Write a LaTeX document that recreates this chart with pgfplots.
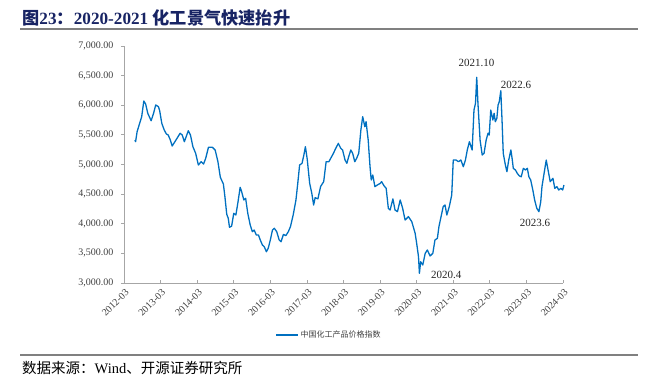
\documentclass[border=0pt]{standalone}
\usepackage{fontspec}
\setmainfont{Liberation Serif}
\newfontfamily\cjk{Noto Sans CJK SC}
\usepackage{pgfplots}
\pgfplotsset{compat=1.18}
\definecolor{lineblue}{RGB}{0,112,192}
\definecolor{titleblue}{RGB}{24,36,100}
\definecolor{rulegray}{RGB}{128,128,128}
\definecolor{axgray}{RGB}{166,166,166}
\definecolor{txtgray}{RGB}{64,64,64}
\begin{document}
\begin{tikzpicture}
\useasboundingbox (0bp,0bp) rectangle (648bp,382bp);
% title
\node[anchor=west,inner sep=0pt,text=titleblue] at (22bp,364bp)
  {\fontsize{17.2bp}{19bp}\selectfont{\cjk\bfseries 图}\textbf{23}{\cjk\bfseries ：}\textbf{2020-2021} {\cjk\bfseries 化工景气快速抬升}};
\draw[rulegray,line width=1.4bp] (20bp,353bp) -- (638bp,353bp);
\draw[rulegray,line width=1.4bp] (20bp,27bp) -- (638bp,27bp);
\node[anchor=west,inner sep=0pt,text=black] at (22bp,14bp)
  {\fontsize{14.5bp}{16bp}\selectfont{\cjk 数据来源：}Wind{\cjk 、开源证券研究所}};
\begin{axis}[
  at={(124bp,99bp)}, anchor=south west,
  scale only axis, width=439bp, height=237bp,
  xmin=0, xmax=144, ymin=3000, ymax=7000,
  axis lines=left, axis line style={axgray, line width=0.8bp, -},
  xtick={0,12,...,144},
  xticklabels={2012-03,2013-03,2014-03,2015-03,2016-03,2017-03,2018-03,2019-03,2020-03,2021-03,2022-03,2023-03,2024-03},
  ytick={3000,3500,...,7000},
  tick style={axgray, line width=0.8bp},
  major tick length=3bp,
  tick align=outside,
  x tick style={yshift=3bp},
  /pgf/number format/assume math mode=true,
  yticklabel style={/pgf/number format/fixed, /pgf/number format/fixed zerofill, /pgf/number format/precision=2, /pgf/number format/1000 sep={,}},
  yticklabel style={font=\fontsize{10bp}{12bp}\selectfont, text=txtgray, xshift=-4bp},
  xticklabel style={font=\fontsize{10bp}{12bp}\selectfont, text=txtgray, rotate=45, anchor=north east, inner sep=1pt, yshift=-1bp},
  legend style={at={(0.467,-0.219)}, anchor=center, draw=none, fill=none,
    font=\fontsize{8bp}{10bp}\selectfont\cjk, text=txtgray, inner sep=0pt},
  legend image code/.code={\draw[lineblue,line width=1.4bp] (0bp,0bp) -- (22bp,0bp);},
  clip=false,
]
\addplot[lineblue, line width=1.3bp, line join=round] table {
x y
3.6 5413
3.8 5385
4.3 5554
5.2 5706
5.8 5807
6.5 6072
7.1 6021
7.8 5864
8.9 5739
9.7 5864
10.4 6004
11.3 5976
11.7 5908
12.4 5695
13.2 5582
13.9 5515
14.5 5498
15.2 5413
15.8 5312
16.7 5385
17.6 5459
18.4 5527
19.1 5498
19.8 5385
20.4 5470
21.1 5571
21.8 5498
22.6 5301
23.5 5189
24.4 4991
25.3 5047
26.1 5008
26.8 5104
27.7 5290
29.0 5290
29.9 5245
30.8 5050
31.6 4784
32.6 4670
33.1 4457
33.7 4160
34.2 4092
34.6 3940
35.3 3960
36.0 4176
36.7 4148
37.4 4370
38.1 4615
38.6 4541
39.3 4401
39.9 4429
40.6 4176
41.4 3979
42.1 3866
42.7 3894
43.4 3810
44.1 3810
44.7 3726
45.4 3641
46.0 3613
46.7 3528
47.3 3585
48.0 3726
48.7 3894
49.3 3923
50.1 3866
50.9 3726
51.5 3697
52.3 3820
53.1 3800
53.9 3866
54.6 3951
55.5 4150
56.4 4400
57.0 4683
57.6 4991
58.4 5020
59.0 5160
59.5 5301
60.1 5090
60.9 4683
61.6 4514
62.2 4317
62.7 4440
63.6 4420
64.5 4630
65.5 4710
66.3 5047
67.2 5047
67.8 5104
68.7 5189
69.3 5256
70.3 5357
71.1 5273
71.7 5245
72.5 5076
73.1 5020
73.7 5132
74.4 5245
75.0 5189
75.7 5047
76.3 5104
77.0 5189
77.7 5582
78.3 5807
79.0 5638
79.4 5723
80.1 5413
80.7 4963
81.1 4738
81.6 4823
82.3 4626
83.1 4654
84.0 4680
84.5 4710
85.3 4640
86.0 4598
86.7 4261
87.3 4232
88.2 4420
88.9 4232
89.7 4204
90.6 4401
91.4 4261
92.2 4063
93.3 4120
94.4 4035
95.5 3838
96.0 3669
96.6 3444
96.9 3163
97.3 3359
98.0 3304
98.8 3501
99.5 3557
100.4 3456
101.3 3501
102.0 3726
102.8 3754
103.3 3950
104.0 4120
104.7 4289
105.3 4317
105.9 4148
106.7 4289
107.5 4485
108.0 5076
108.9 5076
109.7 5047
110.5 5076
111.3 4963
112.0 5076
112.6 5245
113.3 5385
114.2 5245
114.8 5920
115.3 6033
115.7 6472
116.1 6033
116.8 5413
117.5 5160
118.1 5189
118.8 5413
119.4 5527
119.8 5498
120.3 5920
121.0 5751
121.4 5864
121.8 5723
122.3 5780
122.7 6004
123.1 6060
123.6 6246
124.0 5751
124.4 5189
125.1 4991
125.6 4879
126.2 5076
126.9 5245
127.3 5104
127.7 4935
128.4 4907
129.0 4851
129.7 4806
130.3 4794
131.0 4935
131.7 4907
132.3 4935
132.8 4794
133.4 4738
134.1 4570
134.7 4401
135.4 4261
136.1 4204
136.7 4373
137.1 4626
137.8 4851
138.5 5076
139.1 4907
139.8 4710
140.7 4767
141.3 4598
142.0 4626
142.6 4570
143.3 4598
143.9 4570
144.3 4654
};
\addlegendentry{中国化工产品价格指数}
\node[font=\fontsize{11bp}{13bp}\selectfont, text=black!85] at (axis cs:115.6,6713) {2021.10};
\node[font=\fontsize{11bp}{13bp}\selectfont, text=black!85] at (axis cs:128.6,6342) {2022.6};
\node[font=\fontsize{11bp}{13bp}\selectfont, text=black!85] at (axis cs:134.8,4013) {2023.6};
\node[font=\fontsize{11bp}{13bp}\selectfont, text=black!85] at (axis cs:105.7,3135) {2020.4};
\end{axis}
\end{tikzpicture}
\end{document}
